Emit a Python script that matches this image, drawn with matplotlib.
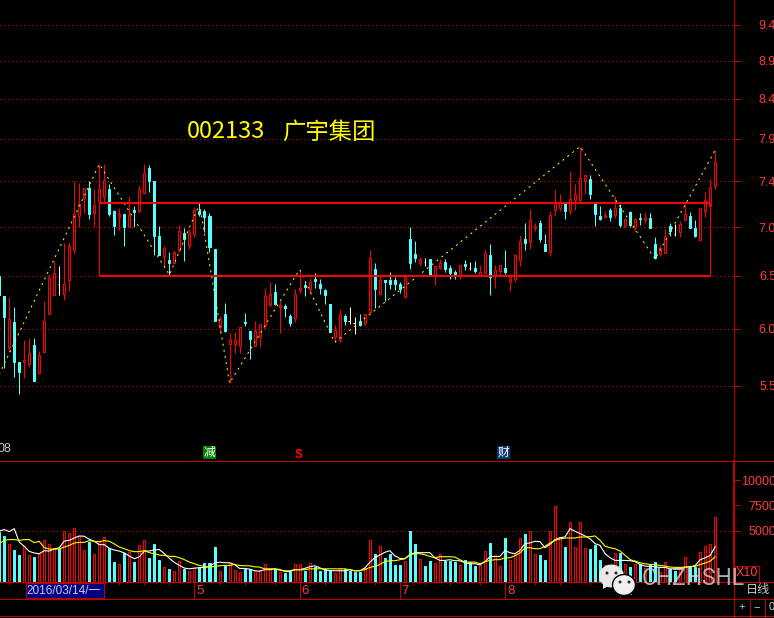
import matplotlib
matplotlib.use('Agg')
import matplotlib.pyplot as plt
from matplotlib.patches import Rectangle, Ellipse, Polygon
from matplotlib.ticker import NullLocator

plt.rcParams['font.family'] = ['Liberation Sans', 'Noto Sans CJK SC', 'DejaVu Sans']

opens = [6.46,6.27,5.81,6.04,5.69,5.69,5.68,5.84,5.60,5.78,
         6.11,6.28,6.38,6.29,6.42,6.71,7.05,7.24,7.35,7.08,
         7.21,7.25,7.34,7.10,7.04,7.07,6.94,7.12,7.10,7.30,
         7.57,7.42,6.85,6.65,6.61,6.58,6.71,6.88,6.75,6.87,
         7.11,7.10,7.05,6.72,5.99,6.11,5.85,5.85,5.83,6.04,
         5.96,5.83,5.91,6.01,6.19,6.31,6.17,6.18,6.09,6.07,
         6.33,6.37,6.34,6.43,6.38,6.33,6.20,5.91,5.88,6.09,
         6.05,6.03,6.05,6.03,6.13,6.53,6.29,6.42,6.42,6.42,
         6.38,6.26,6.82,6.67,6.58,6.59,6.62,6.47,6.54,6.59,
         6.54,6.50,6.46,6.57,6.54,6.54,6.47,6.49,6.66,6.46,
         6.51,6.54,6.41,6.43,6.61,6.82,6.79,6.93,6.98,6.77,
         6.69,7.12,7.14,7.18,7.11,7.22,7.22,7.42,7.45,7.18,
         7.05,7.04,7.12,7.06,7.14,6.95,7.09,6.93,7.03,7.01,
         7.03,6.77,6.67,6.68,6.95,6.87,6.89,7.01,7.05,6.93,
         6.81,7.10,7.16,7.37]
closes = [6.28,6.08,6.06,5.69,5.61,5.71,5.77,5.54,5.75,6.05,
          6.44,6.49,6.38,6.38,6.75,7.07,7.18,7.35,7.07,7.17,
          7.34,7.44,7.07,6.95,7.07,6.94,7.06,7.09,7.34,7.51,
          7.42,6.85,6.66,6.73,6.58,6.69,6.90,6.82,6.88,7.12,
          7.07,7.04,6.74,6.05,6.06,5.96,5.88,5.88,5.99,6.03,
          5.89,5.96,6.02,6.27,6.29,6.20,6.19,6.16,6.03,6.29,
          6.35,6.36,6.40,6.41,6.35,6.28,5.95,5.97,6.11,6.05,
          6.05,6.03,6.01,6.11,6.63,6.34,6.42,6.40,6.38,6.38,
          6.34,6.45,6.58,6.63,6.62,6.59,6.47,6.55,6.58,6.53,
          6.49,6.48,6.56,6.55,6.54,6.51,6.50,6.68,6.45,6.52,
          6.56,6.50,6.45,6.66,6.80,6.78,7.01,6.95,6.82,6.70,
          7.06,7.19,7.19,7.11,7.23,7.28,7.46,7.49,7.28,7.07,
          7.02,7.06,7.04,7.14,6.96,7.02,6.96,7.02,7.02,7.03,
          6.93,6.63,6.73,6.85,6.90,6.87,6.97,7.07,6.93,6.85,
          7.14,7.22,7.36,7.63]
highs = [6.46,6.27,6.26,6.17,5.69,5.88,5.90,5.90,5.79,6.23,
         6.48,6.60,6.55,6.78,6.79,7.42,7.40,7.35,7.43,7.34,
         7.61,7.61,7.39,7.12,7.14,7.07,7.26,7.16,7.38,7.61,
         7.60,7.43,6.95,6.75,6.69,6.70,6.96,6.93,6.92,7.15,
         7.18,7.13,7.08,6.72,6.09,6.21,5.94,5.95,5.99,6.12,
         5.97,6.05,6.02,6.35,6.40,6.38,6.23,6.20,6.11,6.34,
         6.52,6.40,6.44,6.49,6.43,6.34,6.20,6.01,6.15,6.11,
         6.17,6.08,6.11,6.11,6.71,6.58,6.48,6.42,6.50,6.45,
         6.40,6.48,6.94,6.80,6.64,6.63,6.62,6.55,6.62,6.62,
         6.56,6.52,6.56,6.61,6.59,6.60,6.56,6.72,6.77,6.56,
         6.56,6.71,6.46,6.66,6.86,6.98,7.13,6.98,7.01,6.87,
         7.10,7.34,7.28,7.19,7.53,7.39,7.81,7.49,7.49,7.18,
         7.16,7.11,7.14,7.26,7.18,7.03,7.10,7.03,7.08,7.09,
         7.08,6.84,6.76,6.92,6.98,6.97,7.00,7.19,7.09,7.01,
         7.14,7.31,7.45,7.77]
lows = [6.28,5.64,5.78,5.57,5.43,5.56,5.65,5.54,5.59,5.78,
        6.11,6.28,6.28,6.24,6.32,6.67,6.94,7.08,7.02,6.94,
        7.19,7.19,7.05,6.86,6.91,6.75,6.94,6.94,7.08,7.29,
        7.31,6.66,6.66,6.54,6.47,6.57,6.69,6.60,6.72,6.84,
        7.05,6.89,6.69,6.05,5.94,5.95,5.52,5.77,5.77,6.00,
        5.72,5.83,5.82,5.98,6.18,6.19,5.94,6.08,6.00,6.04,
        6.30,6.27,6.29,6.35,6.29,6.20,5.95,5.86,5.86,6.01,
        6.02,5.93,6.00,6.00,6.11,6.16,6.28,6.23,6.34,6.33,
        6.30,6.25,6.53,6.59,6.55,6.55,6.46,6.37,6.53,6.50,
        6.43,6.43,6.43,6.52,6.52,6.49,6.46,6.48,6.28,6.35,
        6.46,6.48,6.32,6.40,6.55,6.71,6.72,6.90,6.79,6.70,
        6.65,7.05,7.11,7.02,7.07,7.12,7.20,7.28,7.23,6.95,
        7.01,7.04,7.00,7.03,6.94,6.94,6.94,6.90,6.96,6.98,
        6.93,6.62,6.65,6.68,6.85,6.85,6.84,7.00,6.93,6.84,
        6.81,7.04,7.16,7.34]
volume = [4880,4460,3730,3070,2570,3500,2640,2380,2670,4130,
          3730,3330,3230,5020,4750,5310,4460,3140,3860,2740,
          3890,4420,3270,1880,1750,2810,2870,1880,3630,4130,
          2280,3660,2080,1450,1190,1060,2050,1220,990,1290,
          1390,1780,1780,3370,1060,1580,1780,1160,960,1190,
          1250,1020,1090,1680,1160,1220,960,790,960,1750,
          1750,1020,1850,1420,1020,1220,1090,860,1350,1220,
          1020,890,920,1350,4130,2670,3530,2280,2670,1580,
          1580,2050,4950,3660,2240,1490,1980,1850,2740,2050,
          1980,1880,1580,2080,1880,1490,1580,3040,3760,2540,
          1550,4260,2080,2740,4320,4650,5020,2740,2640,2080,
          5020,7490,4390,3370,5910,3430,5910,3330,3170,3560,
          2080,1580,1490,2840,2770,1680,1390,1680,1680,1290,
          1750,1880,960,1880,1190,1020,1250,2440,1390,1390,
          2940,3530,3730,6400]
vol_ma_white = [4980,5120,4920,5210,3890,3470,2970,2810,2740,3040,
                3000,3200,3330,3990,4060,4290,4490,4460,4160,3960,
                3630,3630,3270,3100,3000,2810,2510,2240,2440,3000,
                3000,3140,3140,2740,2280,1880,1580,1320,1250,1320,
                1350,1390,1490,1820,1910,1850,1850,1680,1290,1290,
                1220,1060,1020,1160,1160,1250,1190,990,960,1160,
                1160,1290,1450,1550,1350,1160,1060,1060,1060,1060,
                1160,1060,1060,1320,1880,2340,2610,2870,3040,2540,
                2280,2240,2640,2840,2840,2840,2840,2340,2080,2080,
                2150,2050,2050,1850,1750,1750,1650,1950,2440,2480,
                2480,3040,2840,2740,3070,3730,3800,3960,3930,3330,
                3660,4130,4320,4390,5210,4950,4720,4490,4220,3730,
                3560,2740,2340,2080,2080,2080,2050,1950,1680,1520,
                1490,1450,1390,1390,1250,1250,1250,1420,1420,1580,
                2150,2340,2570,3430]
vol_ma_yellow = [3730,4060,4130,4130,4060,4130,4130,3830,3960,3330,
                 3200,3200,3200,3400,3560,3800,3860,3860,4030,3960,
                 3930,4030,3960,3700,3400,3230,3040,2940,2940,3040,
                 2840,2740,2610,2570,2480,2480,2340,2150,1910,1750,
                 1580,1490,1390,1490,1550,1580,1580,1680,1580,1550,
                 1550,1450,1420,1250,1250,1250,1120,1060,1060,1160,
                 1160,1160,1250,1250,1250,1250,1250,1250,1250,1250,
                 1160,1060,1060,1160,1390,1490,1680,1950,2050,2050,
                 2150,2240,2640,2740,2740,2640,2480,2340,2440,2440,
                 2440,2410,2150,1910,1910,1910,1750,1950,2080,2150,
                 2150,2340,2340,2540,2810,3330,3330,3230,3230,3470,
                 3800,4060,4190,4290,4290,4290,4390,4390,4420,4490,
                 4060,3470,3330,3230,3000,2570,2150,2010,1850,1750,
                 1680,1680,1580,1520,1420,1390,1390,1420,1490,1490,
                 1680,1820,2010,2440]

zig_idx = [0, 20, 34, 40, 46, 60, 67, 116, 131, 143]
zig_price = [5.59, 7.61, 6.47, 7.18, 5.52, 6.52, 5.86, 7.81, 6.62, 7.77]

rect_idx = [20, 142]
rect_prices = [6.46, 7.19]

price_ticks = [5.50, 5.98, 6.46, 6.94, 7.42, 7.90, 8.38, 8.86, 9.34]
price_labels = ['5.5', '6.0', '6.5', '7.0', '7.4', '7.9', '8.4', '8.9', '9.4']
vol_ticks = [5000, 7500, 10000]
vol_labels = ['5000', '7500', '10000']
month_idx = [39, 60, 80, 101, 124]
month_labels = ['5', '6', '7', '8', '9']
week_idx = [2, 24, 29, 34, 44, 49, 55, 65, 75, 85, 90, 96, 107, 112, 118]

W, H = 774, 618
RED = '#FF0000'
CYAN = '#54FFFF'
DARK = '#C00000'
LABEL = '#FF3C3C'
GRAY = '#C8C8C8'
PX = 0.72  # one pixel in points

fig = plt.figure(figsize=(W / 100, H / 100), dpi=100, facecolor='black')


def pos(x0, y0, x1, y1):
    return [x0 / W, 1 - y1 / H, (x1 - x0) / W, (y1 - y0) / H]


XLIM = (0.16, 146.65)
ax = fig.add_axes(pos(0, -0.5, 733.5, 460), facecolor='black')
av = fig.add_axes(pos(0, 461, 733.5, 581.5), facecolor='black')

for a in (ax, av):
    a.set_xlim(*XLIM)
    for s in ('top', 'left', 'bottom'):
        a.spines[s].set_visible(False)
    a.spines['right'].set_color(DARK)
    a.spines['right'].set_linewidth(PX)
    a.yaxis.tick_right()
    a.set_axisbelow(True)
    a.grid(axis='y', color='#D00000', lw=PX, ls=(0, (1, 4)), antialiased=False)
    a.tick_params(axis='y', direction='out', length=6 * PX, width=PX, color=DARK,
                  labelcolor=LABEL, labelsize=9, pad=26.4)

ax.set_yscale('log')
ax.set_ylim(4.931, 9.69)
ax.yaxis.set_minor_locator(NullLocator())
ax.set_yticks(price_ticks)
ax.set_yticklabels(price_labels)
ax.set_xticks([])
for lab in ax.get_yticklabels():
    lab.set_ha('right')

av.set_ylim(0, 11880)
av.set_yticks(vol_ticks)
av.set_yticklabels(vol_labels)
for lab in av.get_yticklabels():
    lab.set_ha('right')
for gl in av.get_ygridlines()[1:]:
    gl.set_visible(False)
av.spines['right'].set_linewidth(2 * PX)
av.set_xticks(week_idx)
av.set_xticklabels([])
av.tick_params(axis='x', length=3 * PX, width=PX, color=DARK)

# candles
for i, (o, c, h, l) in enumerate(zip(opens, closes, highs, lows)):
    col = RED if c > o else (CYAN if c < o else 'white')
    ax.vlines(i, l, h, color=col, lw=PX, zorder=2)
    if c > o:
        ax.bar(i, c - o, 0.4, bottom=o, facecolor='black', edgecolor=RED, lw=PX, zorder=3)
    elif c < o:
        ax.bar(i, o - c, 0.4, bottom=c, facecolor=CYAN, edgecolor=CYAN, lw=PX, zorder=3)
    else:
        ax.hlines(c, i - 0.25, i, color='white', lw=PX, zorder=3)

# zig-zag and box
ax.plot(zig_idx, zig_price, color='#FFFF00', lw=PX, ls=(0, (2, 4.2)), zorder=5)
for p in rect_prices:
    ax.plot(rect_idx, [p, p], color=RED, lw=2 * PX, zorder=6, solid_capstyle='butt')
for i in rect_idx:
    ax.plot([i, i], rect_prices, color=RED, lw=PX, zorder=6)

# volume
for i, (v, o, c) in enumerate(zip(volume, opens, closes)):
    if c > o:
        av.bar(i, v, 0.4, facecolor='black', edgecolor=RED, lw=PX, zorder=2)
    else:
        av.bar(i, v, 0.4, facecolor=CYAN, edgecolor=CYAN, lw=PX, zorder=2)
av.plot(range(len(vol_ma_white)), vol_ma_white, color='white', lw=0.8, zorder=4)
av.plot(range(len(vol_ma_yellow)), vol_ma_yellow, color='#FFFF00', lw=0.8, zorder=5)

# overlay: title, frame lines, markers, status row
ov = fig.add_axes([0, 0, 1, 1], facecolor='none')
ov.set_xlim(0, W)
ov.set_ylim(H, 0)
ov.axis('off')


def xpx(i):
    return 5.007 * i - 0.8


ov.text(187, 132, '002133', color='#FFFF00', fontsize=17, fontweight='medium',
        family=['Noto Sans CJK SC'], va='center', ha='left')
ov.text(282, 132, '广宇集团', color='#FFFF00', fontsize=16.8, family=['Noto Sans CJK SC'],
        va='center', ha='left')

for y in (460.5, 582, 598.5, 615.5):
    ov.plot([0, W], [y, y], color=DARK, lw=PX)
ov.plot([733.5, 733.5], [0, H], color=DARK, lw=PX)
ov.plot([749.5, 749.5], [598.5, H], color=DARK, lw=PX)
ov.plot([764.5, 764.5], [598.5, H], color=DARK, lw=PX)

# date box
ov.add_patch(Rectangle((25.5, 582.5), 78, 15.5, facecolor='#000080', edgecolor=DARK, lw=PX))
ov.text(26.5, 590.5, '2016/03/14/一', color='#C8C8F0', fontsize=8.5, va='center', ha='left')
for i, m in zip(month_idx, month_labels):
    x = xpx(i)
    ov.plot([x, x], [582, 598], color=DARK, lw=PX)
    ov.text(x + 2, 590.5, m, color=LABEL, fontsize=9.5, va='center', ha='left')

# markers above the panel line
ov.text(-3, 449.5, '08', color=GRAY, fontsize=9, va='center', ha='left')
ov.add_patch(Rectangle((203, 446), 13, 13, facecolor='#008000', edgecolor='none'))
ov.text(209.5, 452.5, '减', color='white', fontsize=8.5, va='center', ha='center')
ov.text(299, 455.5, 'S', color=RED, fontsize=8.5, fontweight='bold', va='center', ha='center')
ov.add_patch(Polygon([(296.5, 451), (299, 449), (301.5, 451)], facecolor=RED, edgecolor='none'))
ov.add_patch(Rectangle((497, 446), 13, 13, facecolor='#0A3C78', edgecolor='none'))
ov.text(503.5, 452.5, '财', color='white', fontsize=8.5, va='center', ha='center')

# X10 box, period, buttons
ov.add_patch(Rectangle((734.5, 565.5), 24.5, 16, facecolor='none', edgecolor=DARK, lw=PX))
ov.text(736, 573.5, 'X10', color=LABEL, fontsize=9, va='center', ha='left')
ov.text(746, 590, '日线', color=GRAY, fontsize=8.7, va='center', ha='left')
ov.text(742, 607, '+', color=GRAY, fontsize=8, va='center', ha='center')
ov.text(757, 607, '−', color=GRAY, fontsize=8, va='center', ha='center')
ov.text(769, 607, '0', color=GRAY, fontsize=8, va='center', ha='left')

# watermark
ov.add_patch(Polygon([(603, 581), (603, 589), (610, 585)], facecolor='#E8E8E8', edgecolor='none', zorder=8))
ov.add_patch(Ellipse((611.5, 576), 25, 23, facecolor='#E8E8E8', edgecolor='none', zorder=8))
ov.add_patch(Polygon([(629, 590), (632, 595), (623, 593)], facecolor='#F0F0F0', edgecolor='none', zorder=9))
ov.add_patch(Ellipse((624, 585), 23, 21, facecolor='#F0F0F0', edgecolor='black', lw=1, zorder=9))
for ex, ey, z in ((607, 573, 10), (616, 573, 10), (620, 582, 10), (629, 582, 10)):
    ov.add_patch(Ellipse((ex, ey), 3, 3, facecolor='#302020', edgecolor='none', zorder=z))
ov.text(642, 578.5, 'CHZHSHL', color='#D8D8D8', alpha=0.8, fontsize=16.5,
        family=['Roboto'], va='center', ha='left', zorder=10)

fig.savefig('out.png', dpi=100, facecolor='black')
